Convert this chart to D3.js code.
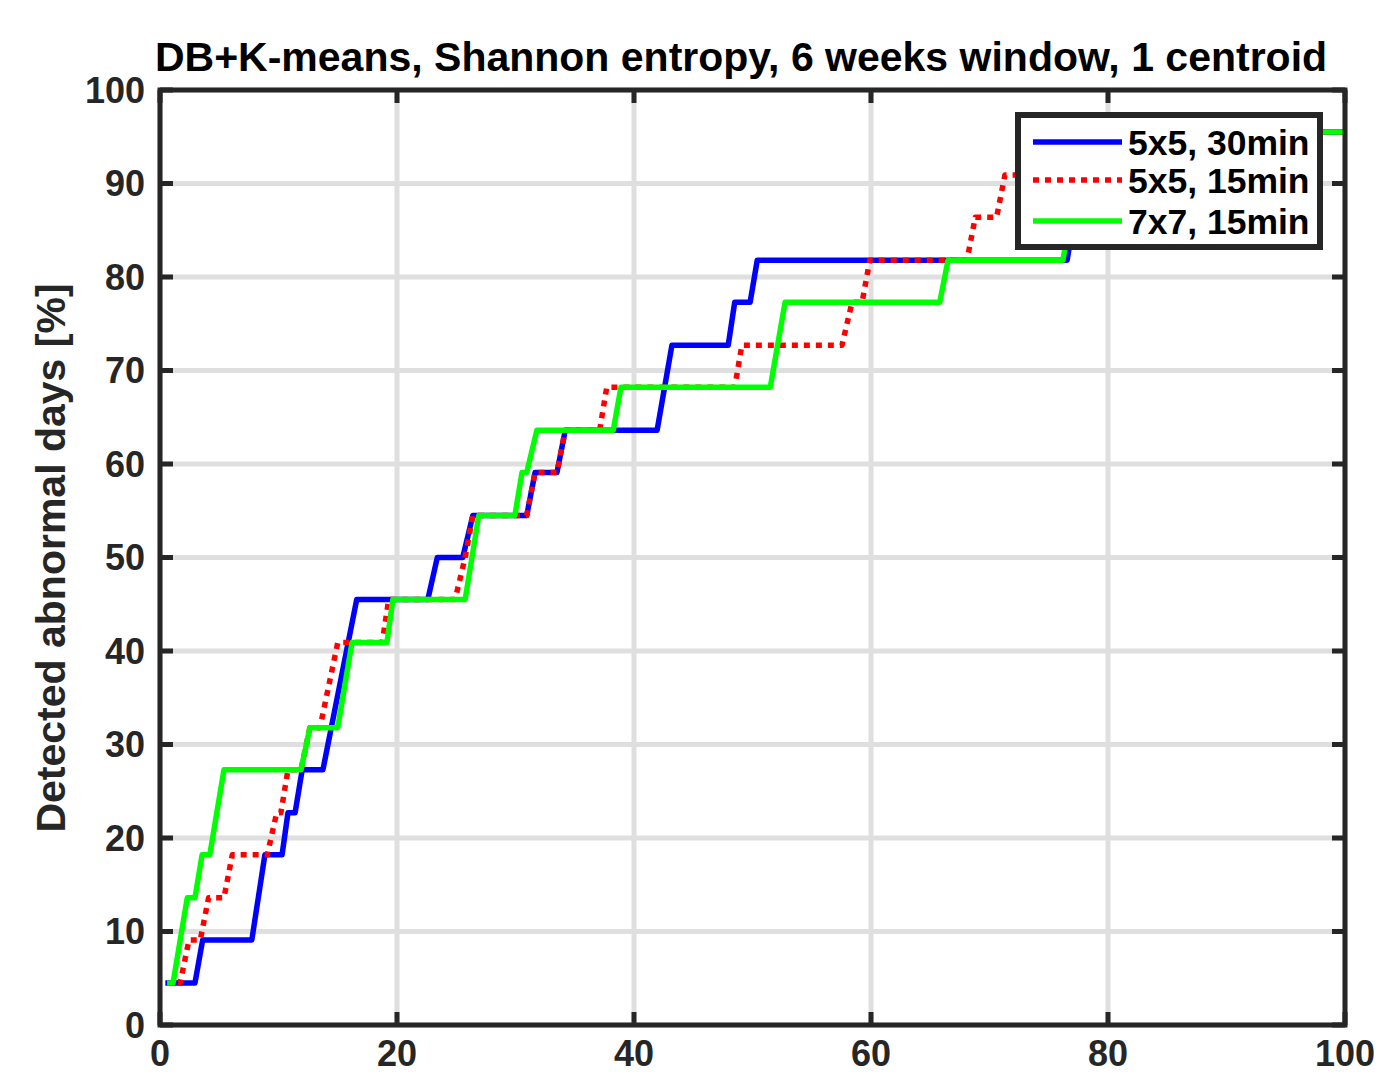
<!DOCTYPE html>
<html><head><meta charset="utf-8">
<script src="https://cdn.jsdelivr.net/npm/d3@7"></script>
<style>html,body{margin:0;padding:0;background:#fff;}svg{display:block;}</style>
</head><body>
<svg id="chart" width="1390" height="1072"></svg>
<script>
const title = "DB+K-means, Shannon entropy, 6 weeks window, 1 centroid";
const yLabel = "Detected abnormal days [%]";
const xTicks = [0, 20, 40, 60, 80, 100];
const yTicks = [0, 10, 20, 30, 40, 50, 60, 70, 80, 90, 100];
const seriesNames = ["5x5, 30min", "5x5, 15min", "7x7, 15min"];

const blueX = [0.45,2.95,3.6,7.75,8.85,10.3,10.8,11.4,12.0,13.75,16.6,22.6,23.4,25.55,26.4,30.95,31.65,33.5,34.2,41.95,43.2,47.95,48.5,49.8,50.4,76.55,77.15,79.3,79.9,83.5,84.1,100];
const blueY = [4.5,4.5,9.1,9.1,18.2,18.2,22.7,22.7,27.3,27.3,45.5,45.5,50.0,50.0,54.5,54.5,59.1,59.1,63.6,63.6,72.7,72.7,77.3,77.3,81.8,81.8,86.4,86.4,90.9,90.9,95.5,95.5];

const redX = [1.5,1.7,2.45,3.4,4.1,5.4,6.1,9.05,9.85,10.2,10.8,11.9,12.65,13.5,15.0,18.75,19.3,24.9,25.75,26.4,30.95,31.65,33.5,34.2,37.1,37.7,48.5,49.1,57.55,58.4,59.25,59.9,68.1,68.8,70.6,71.3,73.4,74.0,100];
const redY = [4.5,4.5,9.1,9.1,13.6,13.6,18.2,18.2,22.7,22.7,27.3,27.3,31.8,31.8,40.9,40.9,45.5,45.5,50.0,54.5,54.5,59.1,59.1,63.6,63.6,68.2,68.2,72.7,72.7,77.3,77.3,81.8,81.8,86.4,86.4,90.9,90.9,95.5,95.5];

const greenX = [0.6,1.1,2.3,2.95,3.55,4.2,5.4,11.9,12.65,15.0,16.2,19.15,19.65,25.75,26.9,29.95,30.55,30.95,31.8,38.25,38.9,51.5,52.75,65.8,66.5,76.2,76.8,78.5,79.1,82.7,83.3,100];
const greenY = [4.5,4.5,13.6,13.6,18.2,18.2,27.3,27.3,31.8,31.8,40.9,40.9,45.5,45.5,54.5,54.5,59.1,59.1,63.6,63.6,68.2,68.2,77.3,77.3,81.8,81.8,86.4,86.4,90.9,90.9,95.5,95.5];

const series = [
  {name: seriesNames[0], xs: blueX, ys: blueY, color: "#0000ff", dash: null},
  {name: seriesNames[1], xs: redX, ys: redY, color: "#ff0000", dash: "6,6"},
  {name: seriesNames[2], xs: greenX, ys: greenY, color: "#00ff00", dash: null}
];

const L = 160, R = 1345, T = 90, B = 1025;
const axisColor = "#262626";
const font = "'Liberation Sans', Arial, Helvetica, sans-serif";
const svg = d3.select("#chart");
const x = d3.scaleLinear().domain([0, 100]).range([L, R]);
const y = d3.scaleLinear().domain([0, 100]).range([B, T]);

// grid
const grid = svg.append("g");
grid.selectAll(".gx").data(xTicks).enter().append("line")
  .attr("x1", d => x(d)).attr("x2", d => x(d)).attr("y1", T).attr("y2", B)
  .attr("stroke", "#dfdfdf").attr("stroke-width", 5);
grid.selectAll(".gy").data(yTicks).enter().append("line")
  .attr("x1", L).attr("x2", R).attr("y1", d => y(d)).attr("y2", d => y(d))
  .attr("stroke", "#dfdfdf").attr("stroke-width", 5);

// ticks (inward, all four sides)
const tk = 13;
const ticks = svg.append("g").attr("stroke", axisColor).attr("stroke-width", 5);
xTicks.forEach(d => {
  ticks.append("line").attr("x1", x(d)).attr("x2", x(d)).attr("y1", B).attr("y2", B - tk);
  ticks.append("line").attr("x1", x(d)).attr("x2", x(d)).attr("y1", T).attr("y2", T + tk);
});
yTicks.forEach(d => {
  ticks.append("line").attr("x1", L).attr("x2", L + tk).attr("y1", y(d)).attr("y2", y(d));
  ticks.append("line").attr("x1", R).attr("x2", R - tk).attr("y1", y(d)).attr("y2", y(d));
});

// lines
svg.append("clipPath").attr("id", "clip").append("rect")
  .attr("x", L).attr("y", T - 3).attr("width", R - L + 2).attr("height", B - T + 6);
const lg = svg.append("g").attr("clip-path", "url(#clip)");
const line = d3.line().x(d => x(d[0])).y(d => y(d[1]));
series.forEach(s => {
  const pts = s.xs.map((v, i) => [v, s.ys[i]]);
  lg.append("path").attr("d", line(pts)).attr("fill", "none")
    .attr("stroke", s.color).attr("stroke-width", 5.5)
    .attr("stroke-linejoin", "round")
    .attr("stroke-dasharray", s.dash);
});

// frame
svg.append("rect").attr("x", L).attr("y", T).attr("width", R - L).attr("height", B - T)
  .attr("fill", "none").attr("stroke", axisColor).attr("stroke-width", 5);

// tick labels
svg.append("g").selectAll("text").data(yTicks).enter().append("text")
  .attr("x", 145).attr("y", d => y(d)).attr("dy", "0.36em")
  .attr("text-anchor", "end").attr("font-family", font).attr("font-weight", "bold")
  .attr("font-size", 36).attr("fill", axisColor).text(d => d);
svg.append("g").selectAll("text").data(xTicks).enter().append("text")
  .attr("x", d => x(d)).attr("y", 1066)
  .attr("text-anchor", "middle").attr("font-family", font).attr("font-weight", "bold")
  .attr("font-size", 36).attr("fill", axisColor).text(d => d);

// title
svg.append("text").attr("x", 741).attr("y", 71)
  .attr("text-anchor", "middle").attr("font-family", font).attr("font-weight", "bold")
  .attr("font-size", 41).attr("fill", "#000").text(title);

// y label
svg.append("text").attr("transform", "translate(65," + 558 + ") rotate(-90)")
  .attr("text-anchor", "middle").attr("font-family", font).attr("font-weight", "bold")
  .attr("font-size", 41).attr("fill", axisColor).text(yLabel);

// legend
const lgX = 1018, lgY = 115, lgW = 302, lgH = 132;
const leg = svg.append("g");
leg.append("rect").attr("x", lgX).attr("y", lgY).attr("width", lgW).attr("height", lgH)
  .attr("fill", "#fff").attr("stroke", axisColor).attr("stroke-width", 6);
const rowY = [142, 180, 221];
series.forEach((s, i) => {
  leg.append("line").attr("x1", 1033).attr("x2", 1122).attr("y1", rowY[i]).attr("y2", rowY[i])
    .attr("stroke", s.color).attr("stroke-width", 5.5).attr("stroke-dasharray", s.dash);
  leg.append("text").attr("x", 1128).attr("y", rowY[i]).attr("dy", "0.36em")
    .attr("font-family", font).attr("font-weight", "bold").attr("font-size", 35.5)
    .attr("fill", "#000").text(s.name);
});
</script>
</body></html>
